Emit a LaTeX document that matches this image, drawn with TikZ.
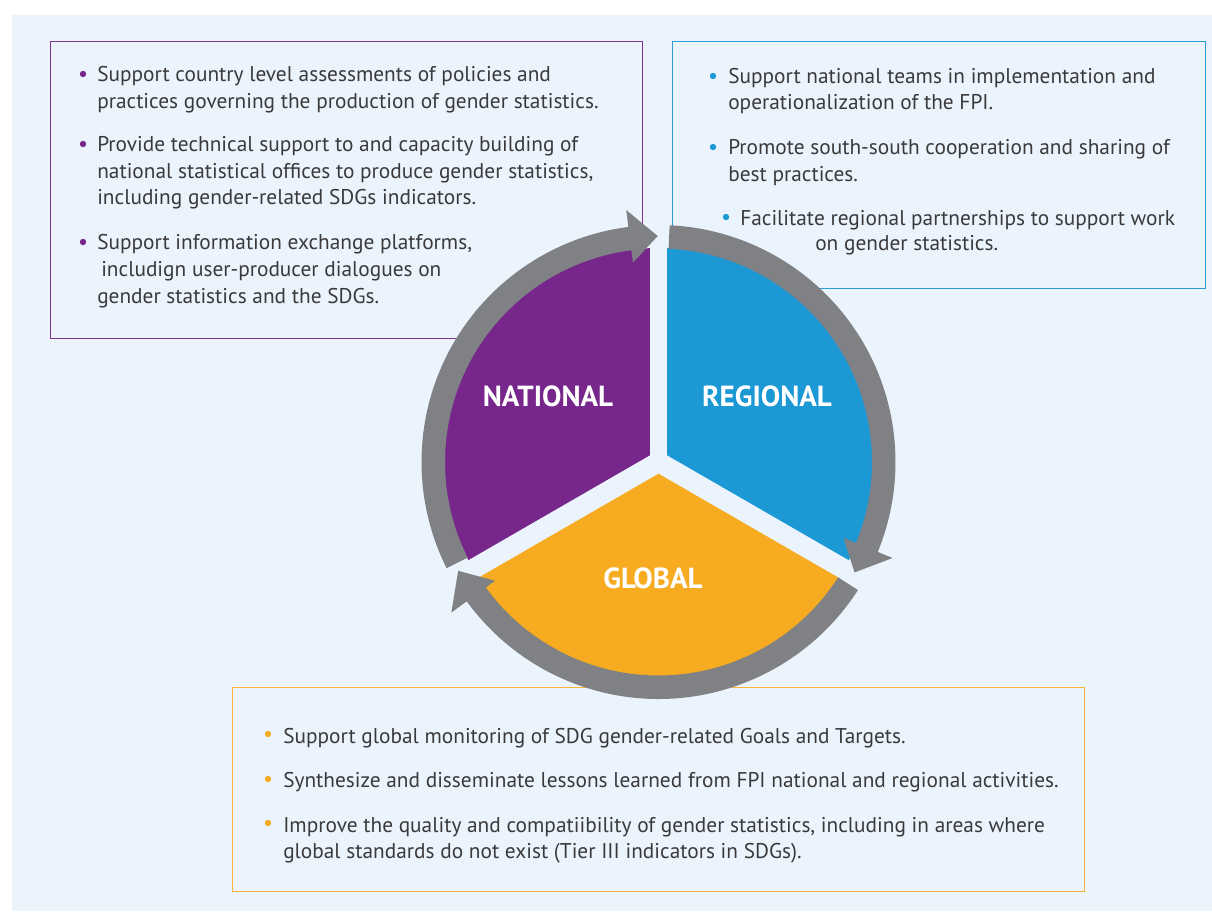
\documentclass[tikz,border=0pt]{standalone}
\usepackage{fontspec}
\setmainfont{PT Sans}
\definecolor{bgblue}{HTML}{EBF4FC}
\definecolor{purp}{HTML}{77278B}
\definecolor{regblue}{HTML}{1C98D5}
\definecolor{orng}{HTML}{F6AB20}
\definecolor{ringgray}{HTML}{808184}
\definecolor{txtgray}{HTML}{3A3A3C}
\definecolor{purpline}{HTML}{7E3590}
\definecolor{blueline}{HTML}{2A9DD8}
\definecolor{orngline}{HTML}{F8B436}
\tikzset{
  txt/.style={anchor=mid west, inner sep=0pt, text=txtgray, font=\fontsize{16}{18}\selectfont},
  dot/.style={circle, inner sep=0pt, minimum size=4.8pt},
  framebox/.style={draw, line width=1.1pt, anchor=north west, inner sep=0pt},
  seclabel/.style={text=white, font=\bfseries\fontsize{21.8}{24}\selectfont, inner sep=0pt},
}
\begin{document}
\begin{tikzpicture}[x=0.75pt,y=-0.75pt]
\useasboundingbox (0,0) rectangle (1212,911);
\fill[bgblue] (11.5,15) rectangle (1212,911);

% boxes
\node[framebox, draw=purpline, minimum width=444pt, minimum height=222.75pt] (natbox) at (50,41) {};
\node[framebox, draw=blueline, minimum width=399.75pt, minimum height=185.25pt] (regbox) at (672,41) {};
\node[framebox, draw=orngline, minimum width=639pt, minimum height=153pt] (globox) at (232,687) {};

% national text
\node[dot, fill=purp] (nd1) at (83,74) {};
\node[dot, fill=purp] (nd2) at (83,144) {};
\node[dot, fill=purp] (nd3) at (83,242) {};
\node[txt] (n1) at (97,78) {Support country level assessments of policies and};
\node[txt] (n2) at (97,105) {practices governing the production of gender statistics.};
\node[txt] (n3) at (97,148) {Provide technical support to and capacity building of};
\node[txt] (n4) at (97,175) {national statistical offices to produce gender statistics,};
\node[txt] (n5) at (97,201) {including gender-related SDGs indicators.};
\node[txt] (n6) at (97,246) {Support information exchange platforms,};
\node[txt] (n7) at (101,273) {includign user-producer dialogues on};
\node[txt] (n8) at (97,300) {gender statistics and the SDGs.};

% regional text
\node[dot, fill=regblue] (rd1) at (713,76) {};
\node[dot, fill=regblue] (rd2) at (713,147) {};
\node[dot, fill=regblue] (rd3) at (726,217) {};
\node[txt] (r1) at (728,80) {Support national teams in implementation and};
\node[txt] (r2) at (728,106) {operationalization of the FPI.};
\node[txt] (r3) at (728,151) {Promote south-south cooperation and sharing of};
\node[txt] (r4) at (728,178) {best practices.};
\node[txt] (r5) at (740,222) {Facilitate regional partnerships to support work};
\node[txt] (r6) at (815,247) {on gender statistics.};

% global text
\node[dot, fill=orng] (gd1) at (268,734) {};
\node[dot, fill=orng] (gd2) at (268,779) {};
\node[dot, fill=orng] (gd3) at (268,823) {};
\node[txt] (g1) at (283,740) {Support global monitoring of SDG gender-related Goals and Targets.};
\node[txt] (g2) at (283,784) {Synthesize and disseminate lessons learned from FPI national and regional activities.};
\node[txt] (g3) at (283,829) {Improve the quality and compatiibility of gender statistics, including in areas where};
\node[txt] (g4) at (283,855) {global standards do not exist (Tier III indicators in SDGs).};

% cycle
\begin{scope}[shift={(658.5,462)}, x=0.75pt, y=0.75pt]
  \fill[purp] (0,0) -- (90:214) arc[start angle=90, end angle=210, radius=214] -- cycle;
  \fill[regblue] (0,0) -- (-30:214) arc[start angle=-30, end angle=90, radius=214] -- cycle;
  \fill[orng] (0,0) -- (210:214) arc[start angle=210, end angle=330, radius=214] -- cycle;
  \draw[bgblue, line width=12.75pt] (0,0) -- (90:225);
  \draw[bgblue, line width=15pt] (0,0) -- (210:225);
  \draw[bgblue, line width=15pt] (0,0) -- (330:225);
  % arrows
  \fill[ringgray] (206.6:213.5) arc[start angle=206.6, end angle=97.3, radius=213.5]
     -- (97.3:201) -- (90.2:226) -- (97.3:254) -- (97.3:237)
     arc[start angle=97.3, end angle=206.6, radius=237] -- cycle;
  \fill[ringgray] (87.3:213.5) arc[start angle=87.3, end angle=-22.3, radius=213.5]
     -- (-22.3:200) -- (-29.4:225) -- (-22.3:253) -- (-22.3:237)
     arc[start angle=-22.3, end angle=87.3, radius=237] -- cycle;
  \fill[ringgray] (-32.7:213.5) arc[start angle=-32.7, end angle=-144, radius=213.5]
     -- (-144:202) -- (-151.5:228) -- (-144:256) -- (-144:237)
     arc[start angle=-144, end angle=-32.7, radius=237] -- cycle;
\end{scope}

\node[seclabel] (natl) at (548,396) {NATIONAL};
\node[seclabel] (regl) at (767,396) {REGIONAL};
\node[seclabel] (glol) at (653,578) {GLOBAL};
\end{tikzpicture}
\end{document}
